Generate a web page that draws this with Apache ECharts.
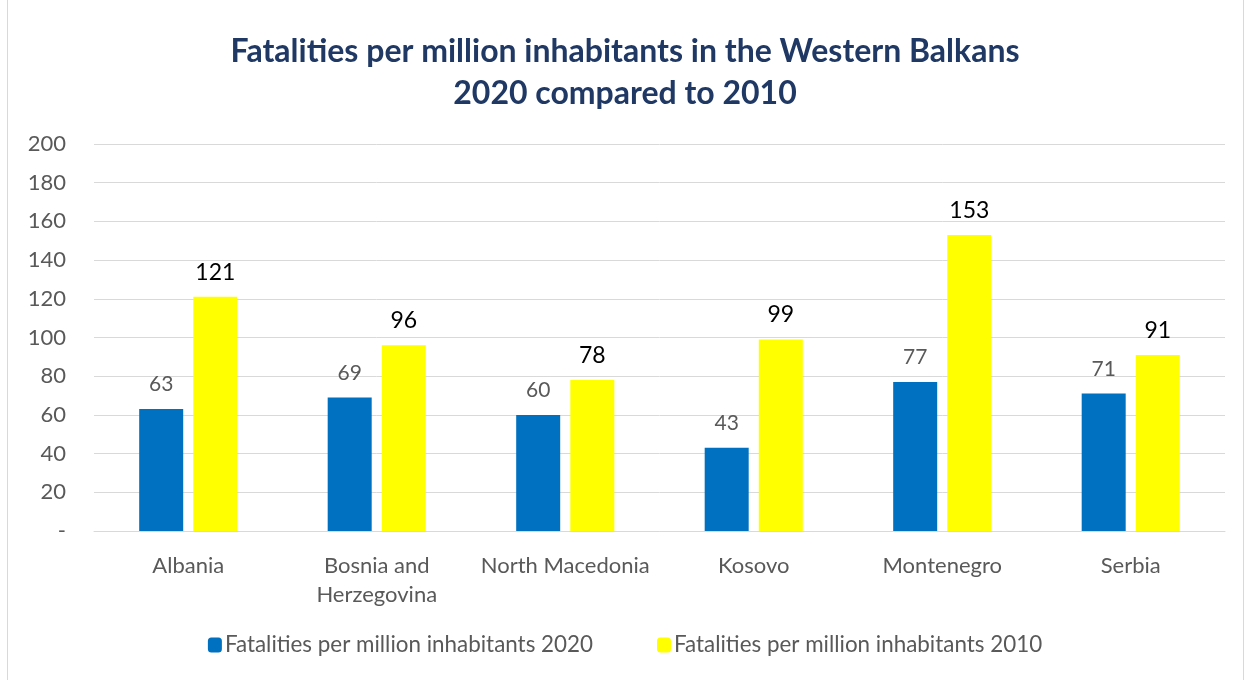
<!DOCTYPE html>
<html><head><meta charset="utf-8">
<script src="https://cdn.jsdelivr.net/npm/echarts@6/dist/echarts.min.js"></script>
<style>html,body{margin:0;padding:0;background:#fff}
#wrap{position:absolute;left:7px;top:-2px;width:1237px;height:690px;border:1px solid #d9d9d9;box-sizing:border-box}
#c{position:absolute;left:0;top:0;width:1250px;height:680px}</style>
</head><body><div id="wrap"></div><div id="c"></div>
<script>
const categories = ['Albania', 'Bosnia and\nHerzegovina', 'North Macedonia', 'Kosovo', 'Montenegro', 'Serbia'];
const values2020 = [63, 69, 60, 43, 77, 71];
const values2010 = [121, 96, 78, 99, 153, 91];
const seriesNames = ['Fatalities per million inhabitants 2020', 'Fatalities per million inhabitants 2010'];
const yTicks = { min: 0, max: 200, interval: 20 };

const font = 'Lato, "Open Sans", sans-serif';
const chart = echarts.init(document.getElementById('c'));
chart.setOption({
  animation: false,
  textStyle: { fontFamily: font },
  title: {
    text: 'Fatalities per million inhabitants in the Western Balkans\n2020 compared to 2010',
    left: 'center', top: 26,
    textStyle: { fontFamily: font, fontSize: 32, fontWeight: 'bold', color: '#1F3864', lineHeight: 42 }
  },
  legend: {
    bottom: 19, left: 'center', itemGap: 64, itemWidth: 14, itemHeight: 15,
    textStyle: { fontSize: 22.4, color: '#595959', fontFamily: font, padding: [0, 0, 0, -2] }
  },
  grid: { left: 94, right: 25, top: 144, bottom: 149, containLabel: false },
  xAxis: {
    type: 'category', data: categories,
    axisLine: { lineStyle: { color: '#d9d9d9' } },
    axisTick: { show: false },
    axisLabel: { interval: 0, fontSize: 22, color: '#595959', margin: 20, lineHeight: 29, fontFamily: font }
  },
  yAxis: {
    type: 'value', min: yTicks.min, max: yTicks.max, interval: yTicks.interval,
    axisLine: { show: false }, axisTick: { show: false },
    splitLine: { lineStyle: { color: '#d9d9d9', width: 1 } },
    axisLabel: { fontSize: 22, color: '#595959', margin: 28, fontFamily: font,
      formatter: v => v === 0 ? '-' : v }
  },
  series: [
    { name: seriesNames[0], type: 'bar', data: values2020, barWidth: 44, barGap: '23%',
      itemStyle: { color: '#0070C0' },
      label: { show: true, position: 'top', distance: 14, fontSize: 21, color: '#595959', fontFamily: font } },
    { name: seriesNames[1], type: 'bar', data: values2010, barWidth: 44,
      itemStyle: { color: '#FFFF00' },
      label: { show: true, position: 'top', distance: 13, fontSize: 23, color: '#000', fontFamily: font } }
  ]
});
</script></body></html>
